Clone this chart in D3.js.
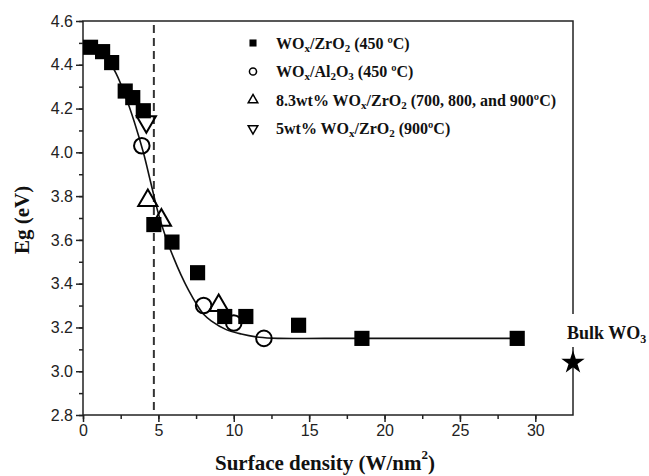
<!DOCTYPE html>
<html lang="en">
<head>
    <meta charset="UTF-8">
    <title>Eg vs surface density</title>
    <script src="https://cdn.jsdelivr.net/npm/d3@7/dist/d3.min.js"></script>
    <style>
        body { margin: 0; background: #fff; }
        .tick text { font-family: "Liberation Sans", Arial, sans-serif; font-size: 16px; fill: #222; }
        .serif { font-family: "Liberation Serif", "Times New Roman", serif; font-weight: bold; fill: #111; }
    </style>
</head>
<body>
<script>

    // WOx/ZrO2 (450 C) - filled squares
    var zrX = [0.5, 1.3, 1.9, 2.8, 3.3, 4.0, 4.7, 5.9, 7.6, 9.4, 10.8, 14.3, 18.5, 28.8];
    var zrY = [4.48, 4.46, 4.41, 4.28, 4.25, 4.19, 3.67, 3.59, 3.45, 3.25, 3.25, 3.21, 3.15, 3.15];

    // WOx/Al2O3 (450 C) - open circles
    var alX = [3.9, 8.0, 10.0, 12.0];
    var alY = [4.03, 3.30, 3.22, 3.15];

    // 8.3wt% WOx/ZrO2 - open up triangles
    var t8X = [4.3, 5.2, 9.0];
    var t8Y = [3.78, 3.69, 3.30];

    // 5wt% WOx/ZrO2 (900 C) - open down triangle
    var t5X = [4.2];
    var t5Y = [4.14];

    // fitted curve
    var fitX = [1.5, 2.2, 2.8, 3.4, 4.0, 4.5, 5.0, 5.5, 6.0, 6.5, 7.0, 7.5, 8.0, 8.5, 9.5, 10.5, 11.7, 13, 16, 28.8];
    var fitY = [4.44, 4.36, 4.26, 4.14, 4.00, 3.86, 3.72, 3.61, 3.52, 3.44, 3.37, 3.31, 3.26, 3.23, 3.19, 3.17, 3.155, 3.15, 3.15, 3.15];

    var bulkX = 32.5, bulkY = 3.04;
    var dashX = 4.7;

    var xTicks = [0, 5, 10, 15, 20, 25, 30];
    var yTicks = [2.8, 3.0, 3.2, 3.4, 3.6, 3.8, 4.0, 4.2, 4.4, 4.6];

    var width = 649, height = 476;
    var margin = {left: 83, right: 76, top: 21, bottom: 61};

    var svg = d3.select("body").append("svg")
        .attr("width", width)
        .attr("height", height);

    var x = d3.scaleLinear().domain([0, 32.5]).range([margin.left, width - margin.right]);
    var y = d3.scaleLinear().domain([2.8, 4.6]).range([height - margin.bottom, margin.top]);

    // minor ticks
    var xMinor = d3.range(0, 32.5, 2.5);
    var yMinor = d3.range(2.8, 4.61, 0.1);

    svg.append("g")
        .attr("transform", "translate(0," + y(2.8) + ")")
        .call(d3.axisBottom(x).tickValues(xMinor).tickSize(4).tickFormat(""))
        .call(function (g) { g.select(".domain").remove(); });
    svg.append("g")
        .attr("transform", "translate(" + x(0) + ",0)")
        .call(d3.axisLeft(y).tickValues(yMinor).tickSize(4).tickFormat(""))
        .call(function (g) { g.select(".domain").remove(); });

    svg.append("g")
        .attr("transform", "translate(0," + y(2.8) + ")")
        .call(d3.axisBottom(x).tickValues(xTicks).tickSize(7).tickPadding(3).tickFormat(d3.format("d")));
    svg.append("g")
        .attr("transform", "translate(" + x(0) + ",0)")
        .call(d3.axisLeft(y).tickValues(yTicks).tickSize(7).tickPadding(3).tickFormat(d3.format(".1f")));

    svg.selectAll(".tick line").attr("stroke", "#222").attr("stroke-width", 1.5);
    svg.selectAll(".domain").remove();

    // frame
    svg.append("rect")
        .attr("x", x(0)).attr("y", y(4.6))
        .attr("width", x(32.5) - x(0)).attr("height", y(2.8) - y(4.6))
        .attr("fill", "none").attr("stroke", "#222").attr("stroke-width", 1.5);

    // dashed line
    svg.append("line")
        .attr("x1", x(dashX)).attr("x2", x(dashX))
        .attr("y1", y(4.6) + 4).attr("y2", y(2.8))
        .attr("stroke", "#333").attr("stroke-width", 2)
        .attr("stroke-dasharray", "8,5");

    // fit curve
    var line = d3.line()
        .x(function (d, i) { return x(fitX[i]); })
        .y(function (d, i) { return y(fitY[i]); })
        .curve(d3.curveCatmullRom);
    svg.append("path")
        .datum(fitX)
        .attr("d", line)
        .attr("fill", "none")
        .attr("stroke", "#111")
        .attr("stroke-width", 1.6);

    function drawSymbols(xs, ys, type, size, filled, rot) {
        svg.append("g").selectAll("path")
            .data(xs)
            .enter()
            .append("path")
            .attr("transform", function (d, i) {
                return "translate(" + x(d) + "," + y(ys[i]) + ")" + (rot ? " rotate(" + rot + ")" : "");
            })
            .attr("d", d3.symbol().type(type).size(size))
            .attr("fill", filled ? "#000" : "#fff")
            .attr("fill-opacity", filled ? 1 : 0)
            .attr("stroke", "#000")
            .attr("stroke-width", filled ? 0 : 2);
    }

    drawSymbols(zrX, zrY, d3.symbolSquare, 230, true);
    drawSymbols(alX, alY, d3.symbolCircle, 190, false);
    drawSymbols(t8X, t8Y, d3.symbolTriangle, 160, false);
    drawSymbols(t5X, t5Y, d3.symbolTriangle, 160, false, 180);

    // bulk WO3 star and label
    svg.append("rect")
        .attr("x", 564).attr("y", 314)
        .attr("width", 85).attr("height", 33)
        .attr("fill", "#fff");
    svg.append("text")
        .attr("class", "serif")
        .attr("x", 567).attr("y", 339)
        .attr("font-size", 18)
        .text("Bulk WO")
        .append("tspan").attr("font-size", 12).attr("dy", 4).text("3");
    svg.append("path")
        .attr("transform", "translate(" + x(bulkX) + "," + y(bulkY) + ")")
        .attr("d", d3.symbol().type(d3.symbolStar).size(170))
        .attr("fill", "#000");

    // legend
    var legend = [
        {type: d3.symbolSquare, filled: true, size: 50, rot: 0,
         parts: [["WO", 0], ["x", 1], ["/ZrO", 0], ["2", 1], [" (450 ºC)", 0]]},
        {type: d3.symbolCircle, filled: false, size: 40, rot: 0,
         parts: [["WO", 0], ["x", 1], ["/Al", 0], ["2", 1], ["O", 0], ["3", 1], [" (450 ºC)", 0]]},
        {type: d3.symbolTriangle, filled: false, size: 40, rot: 0,
         parts: [["8.3wt% WO", 0], ["x", 1], ["/ZrO", 0], ["2", 1], [" (700, 800, and 900ºC)", 0]]},
        {type: d3.symbolTriangle, filled: false, size: 40, rot: 180,
         parts: [["5wt% WO", 0], ["x", 1], ["/ZrO", 0], ["2", 1], [" (900ºC)", 0]]}
    ];

    legend.forEach(function (item, i) {
        var ly = 43 + i * 28.5;
        svg.append("path")
            .attr("transform", "translate(253," + ly + ")" + (item.rot ? " rotate(180)" : ""))
            .attr("d", d3.symbol().type(item.type).size(item.size))
            .attr("fill", item.filled ? "#000" : "none")
            .attr("stroke", "#000")
            .attr("stroke-width", item.filled ? 0 : 1.5);
        var t = svg.append("text")
            .attr("class", "serif")
            .attr("x", 276).attr("y", ly + 5.5)
            .attr("font-size", 16);
        var sub = false;
        item.parts.forEach(function (p) {
            var ts = t.append("tspan").text(p[0]);
            if (p[1] && !sub) { ts.attr("dy", 3).attr("font-size", 11); sub = true; }
            else if (p[1]) { ts.attr("font-size", 11); }
            else if (sub) { ts.attr("dy", -3); sub = false; }
        });
    });

    // axis titles
    var xt = svg.append("text")
        .attr("class", "serif")
        .attr("x", 325).attr("y", 470)
        .attr("text-anchor", "middle")
        .attr("font-size", 21);
    xt.append("tspan").text("Surface density (W/nm");
    xt.append("tspan").attr("font-size", 13).attr("dy", -11).text("2");
    xt.append("tspan").attr("dy", 11).text(")");

    svg.append("text")
        .attr("class", "serif")
        .attr("transform", "translate(29," + ((y(2.8) + y(4.6)) / 2 + 2) + ") rotate(-90)")
        .attr("text-anchor", "middle")
        .attr("font-size", 21)
        .text("Eg (eV)");

</script>
</body>
</html>
